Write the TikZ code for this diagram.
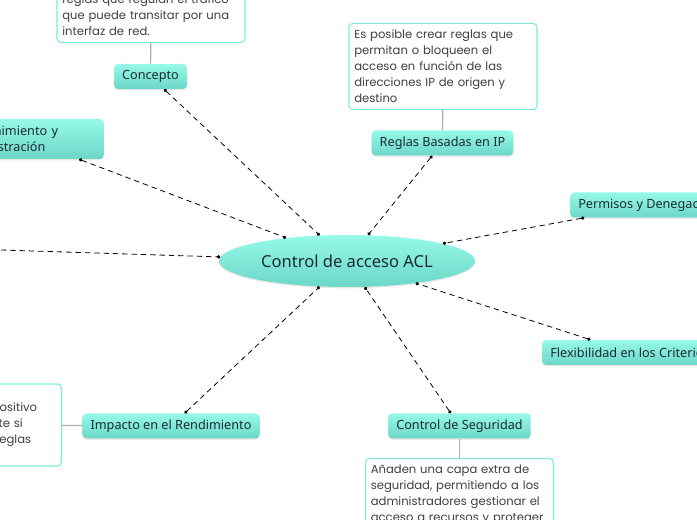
\documentclass[tikz,border=0pt]{standalone}
\usepackage{fontspec}
\setmainfont{Noto Sans}
\newfontfamily\descfont{Poppins}
\usetikzlibrary{shapes.geometric,shadows,arrows.meta}
\definecolor{aquaTop}{HTML}{96F9E9}
\definecolor{aquaBot}{HTML}{6CD7C7}
\definecolor{aquaLine}{HTML}{7FEAD9}
\definecolor{topicText}{HTML}{1B2A35}
\definecolor{descText}{HTML}{404040}

\begin{document}
\begin{tikzpicture}[x=0.75pt,y=-0.75pt,
	topic/.style={rectangle, rounded corners=3pt, top color=aquaTop, bottom color=aquaBot,
		text=topicText, font=\fontsize{9.5}{12.5}\selectfont, minimum height=18.75pt,
		inner xsep=6pt, drop shadow={opacity=0.18, shadow xshift=0pt, shadow yshift=-1pt}},
	desc/.style={rectangle, rounded corners=3pt, draw=aquaLine, line width=0.8pt, fill=white,
		text=descText, font=\descfont\fontsize{8.7}{12}\selectfont,
		execute at begin node={\hyphenpenalty=10000\relax},
		align=left, text width=133pt, inner xsep=4pt, inner ysep=5pt},
	link/.style={line width=0.6pt, dash pattern=on 4pt off 3pt,
		{Circle[length=2.5pt]}-{Circle[length=2.5pt]}},
	stem/.style={draw=gray!65, line width=0.9pt}]

		\useasboundingbox (0,0) rectangle (697,520);
		\clip (0,0) rectangle (697,520);

		\node[ellipse, minimum width=192pt, minimum height=39pt, inner sep=0pt,
			top color=aquaTop, bottom color=aquaBot, text=topicText,
			font=\fontsize{12.4}{15}\selectfont,
			drop shadow={opacity=0.18, shadow xshift=0pt, shadow yshift=-1pt}]
			(center) at (347, 261) {Control de acceso ACL};

		\node[topic] (T1) at (150.5, 76.5) {Concepto};
		\node[topic] (T2) at (442.5, 143) {Reglas Basadas en IP};
		\node[topic, anchor=west] (T3) at (570, 205) {Permisos y Denegaciones};
		\node[topic, anchor=west] (T4) at (542, 352.5) {Flexibilidad en los Criterios};
		\node[topic] (T5) at (459.5, 426) {Control de Seguridad};
		\node[topic] (T6) at (171, 426) {Impacto en el Rendimiento};
		\node[topic, anchor=east, align=left, text width=105pt, minimum height=30pt]
			(T7) at (104, 139) {Mantenimiento y\\Administración};
		\coordinate (T8) at (-30, 249);

		% notas
		\node[desc, anchor=south] (D1) at (151, 43)
			{reglas que regulan el tráfico\\que puede transitar por una\\interfaz de red.};
		\node[desc, minimum height=62.25pt] (D2) at (443, 66.5)
			{Es posible crear reglas que\\permitan o bloqueen el\\acceso en función de las\\direcciones IP de origen y\\destino};
		\node[desc, anchor=north] (D5) at (459.5, 458)
			{Añaden una capa extra de\\seguridad, permitiendo a los\\administradores gestionar el\\acceso a recursos y proteger};
		\node[desc, anchor=east, minimum height=61.5pt] (D6) at (62, 425)
			{rendimiento del dispositivo\\de red, especialmente si\\se aplican muchas reglas};

		\draw[stem] (D1) -- (T1);
		\draw[stem] (D2) -- (T2);
		\draw[stem] (D5) -- (T5);
		\draw[stem] (D6) -- (T6);

		\draw[link] (T1) -- (center);
		\draw[link] (T2) -- (center);
		\draw[link] (T3) -- (center);
		\draw[link] (T4) -- (center);
		\draw[link] (T5) -- (center);
		\draw[link] (T6) -- (center);
		\draw[link] (T7) -- (center);
		\draw[link] (T8) -- (center);

	\end{tikzpicture}
\end{document}
